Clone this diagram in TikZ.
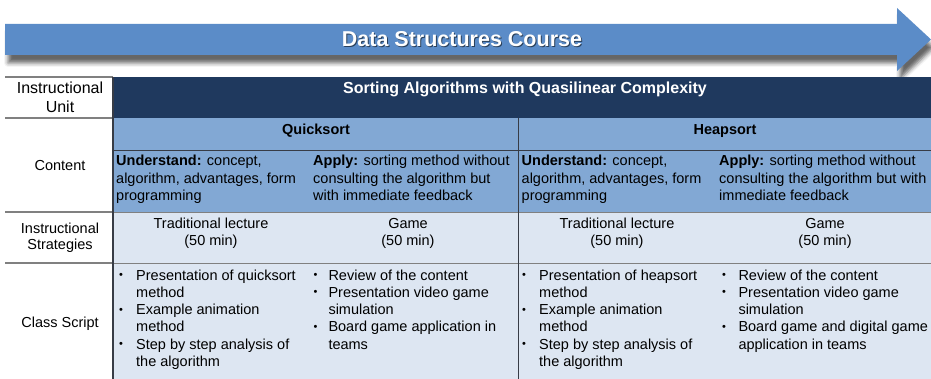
\documentclass[tikz,border=0pt]{standalone}
\usepackage{fontspec}
\setmainfont{Liberation Sans}
\usetikzlibrary{shadows.blur}

\definecolor{arrowblue}{RGB}{91,140,200}
\definecolor{unitnavy}{RGB}{31,57,94}
\definecolor{topicblue}{RGB}{130,168,212}
\definecolor{planblue}{RGB}{221,230,242}
\definecolor{rulegrey}{RGB}{128,128,128}
\definecolor{ruledark}{RGB}{55,60,70}

% cell contents, first baseline is the node's baseline
\newcommand{\leftcell}[1]{\begin{tabular}[t]{@{}l@{}}#1\end{tabular}}
\newcommand{\midcell}[1]{\begin{tabular}[t]{@{}c@{}}#1\end{tabular}}
\newcommand{\bulletcell}[2]{\begin{tabular}[t]{@{}p{#1}@{}l@{}}#2\end{tabular}}
\newcommand{\dotmark}{\raisebox{1.6pt}{\fontsize{11}{12}\selectfont •}}

\tikzset{
  celltext/.style={inner sep=0pt, font=\fontsize{14.5}{17.3}\selectfont},
  rowname/.style={celltext, anchor=base},
  topic/.style={celltext, anchor=base, font=\fontsize{14.5}{17.3}\selectfont\bfseries},
  entry/.style={celltext, anchor=base west},
  strategy/.style={celltext, anchor=base},
  siderule/.style={rulegrey, line width=1.8pt},
  gridrule/.style={ruledark, line width=0.9pt},
}

\begin{document}
\begin{tikzpicture}[x=1pt, y=-1pt]
\useasboundingbox (0,0) rectangle (931,379);

% Course arrow
\fill[arrowblue, blur shadow={shadow xshift=3pt, shadow yshift=-8pt, shadow blur radius=4pt, shadow opacity=60}]
  (5,24) -- (897,24) -- (897,8) -- (931,39.5) -- (897,71) -- (897,55) -- (5,55) -- cycle;
\node[inner sep=0pt, black, opacity=0.55, font=\fontsize{21.5}{24}\selectfont\bfseries] at (463,40.5) {Data Structures Course};
\node[inner sep=0pt, white, font=\fontsize{21.5}{24}\selectfont\bfseries] (course) at (462,39.5) {Data Structures Course};

% Cell backgrounds
\fill[unitnavy] (113,77) rectangle (931,118);
\fill[topicblue] (113,118) rectangle (931,212);
\fill[planblue] (113,212) rectangle (931,379);

% Rules
\draw[siderule] (5,77) -- (113,77);
\draw[siderule] (5,118) -- (113,118);
\draw[siderule] (5,212) -- (113,212);
\draw[siderule] (5,263) -- (113,263);
\draw[gridrule] (113,150) -- (931,150);
\draw[gridrule, rulegrey] (113,212) -- (931,212);
\draw[gridrule, rulegrey] (113,263) -- (931,263);
\draw[gridrule, line width=1.3pt] (113,77) -- (113,379);
\draw[gridrule] (518,118) -- (518,379);

% Row names
\node[rowname, font=\fontsize{16}{19.2}\selectfont] (unit) at (60,93.5) {\midcell{Instructional\\Unit}};
\node[rowname] (content) at (60,171) {Content};
\node[rowname, font=\fontsize{14.5}{16}\selectfont] (strategies) at (60,234) {\midcell{Instructional\\Strategies}};
\node[rowname] (script) at (60,327) {Class Script};

% Unit and topics
\node[topic, white, font=\fontsize{16}{19.2}\selectfont\bfseries] (sorting) at (525,93.5) {Sorting Algorithms with Quasilinear Complexity};
\node[topic] (quick) at (316,135) {Quicksort};
\node[topic] (heap) at (725,135) {Heapsort};

% Content
\node[entry] (quickund) at (116,166) {\leftcell{\textbf{Understand:} concept,\\algorithm, advantages, form\\programming}};
\node[entry] (quickapp) at (313,166) {\leftcell{\textbf{Apply:} sorting method without\\consulting the algorithm but\\with immediate feedback}};
\node[entry] (heapund) at (521.5,166) {\leftcell{\textbf{Understand:} concept,\\algorithm, advantages, form\\programming}};
\node[entry] (heapapp) at (719,166) {\leftcell{\textbf{Apply:} sorting method without\\consulting the algorithm but with\\immediate feedback}};

% Strategies
\node[strategy] (quicklec) at (211,228.5) {\midcell{Traditional lecture\\(50 min)}};
\node[strategy] (quickgame) at (408,228.5) {\midcell{Game\\(50 min)}};
\node[strategy] (heaplec) at (617,228.5) {\midcell{Traditional lecture\\(50 min)}};
\node[strategy] (heapgame) at (825,228.5) {\midcell{Game\\(50 min)}};

% Class script
\node[entry] (quicksteps) at (119,280) {\bulletcell{17pt}{%
  \dotmark & Presentation of quicksort\\
    & method\\
  \dotmark & Example animation\\
    & method\\
  \dotmark & Step by step analysis of\\
    & the algorithm}};
\node[entry] (quickplay) at (313.5,280) {\bulletcell{14.8pt}{%
  \dotmark & Review of the content\\
  \dotmark & Presentation video game\\
    & simulation\\
  \dotmark & Board game application in\\
    & teams}};
\node[entry] (heapsteps) at (521.8,280) {\bulletcell{17.2pt}{%
  \dotmark & Presentation of heapsort\\
    & method\\
  \dotmark & Example animation\\
    & method\\
  \dotmark & Step by step analysis of\\
    & the algorithm}};
\node[entry] (heapplay) at (721.8,280) {\bulletcell{16.5pt}{%
  \dotmark & Review of the content\\
  \dotmark & Presentation video game\\
    & simulation\\
  \dotmark & Board game and digital game\\
    & application in teams}};

\end{tikzpicture}
\end{document}
